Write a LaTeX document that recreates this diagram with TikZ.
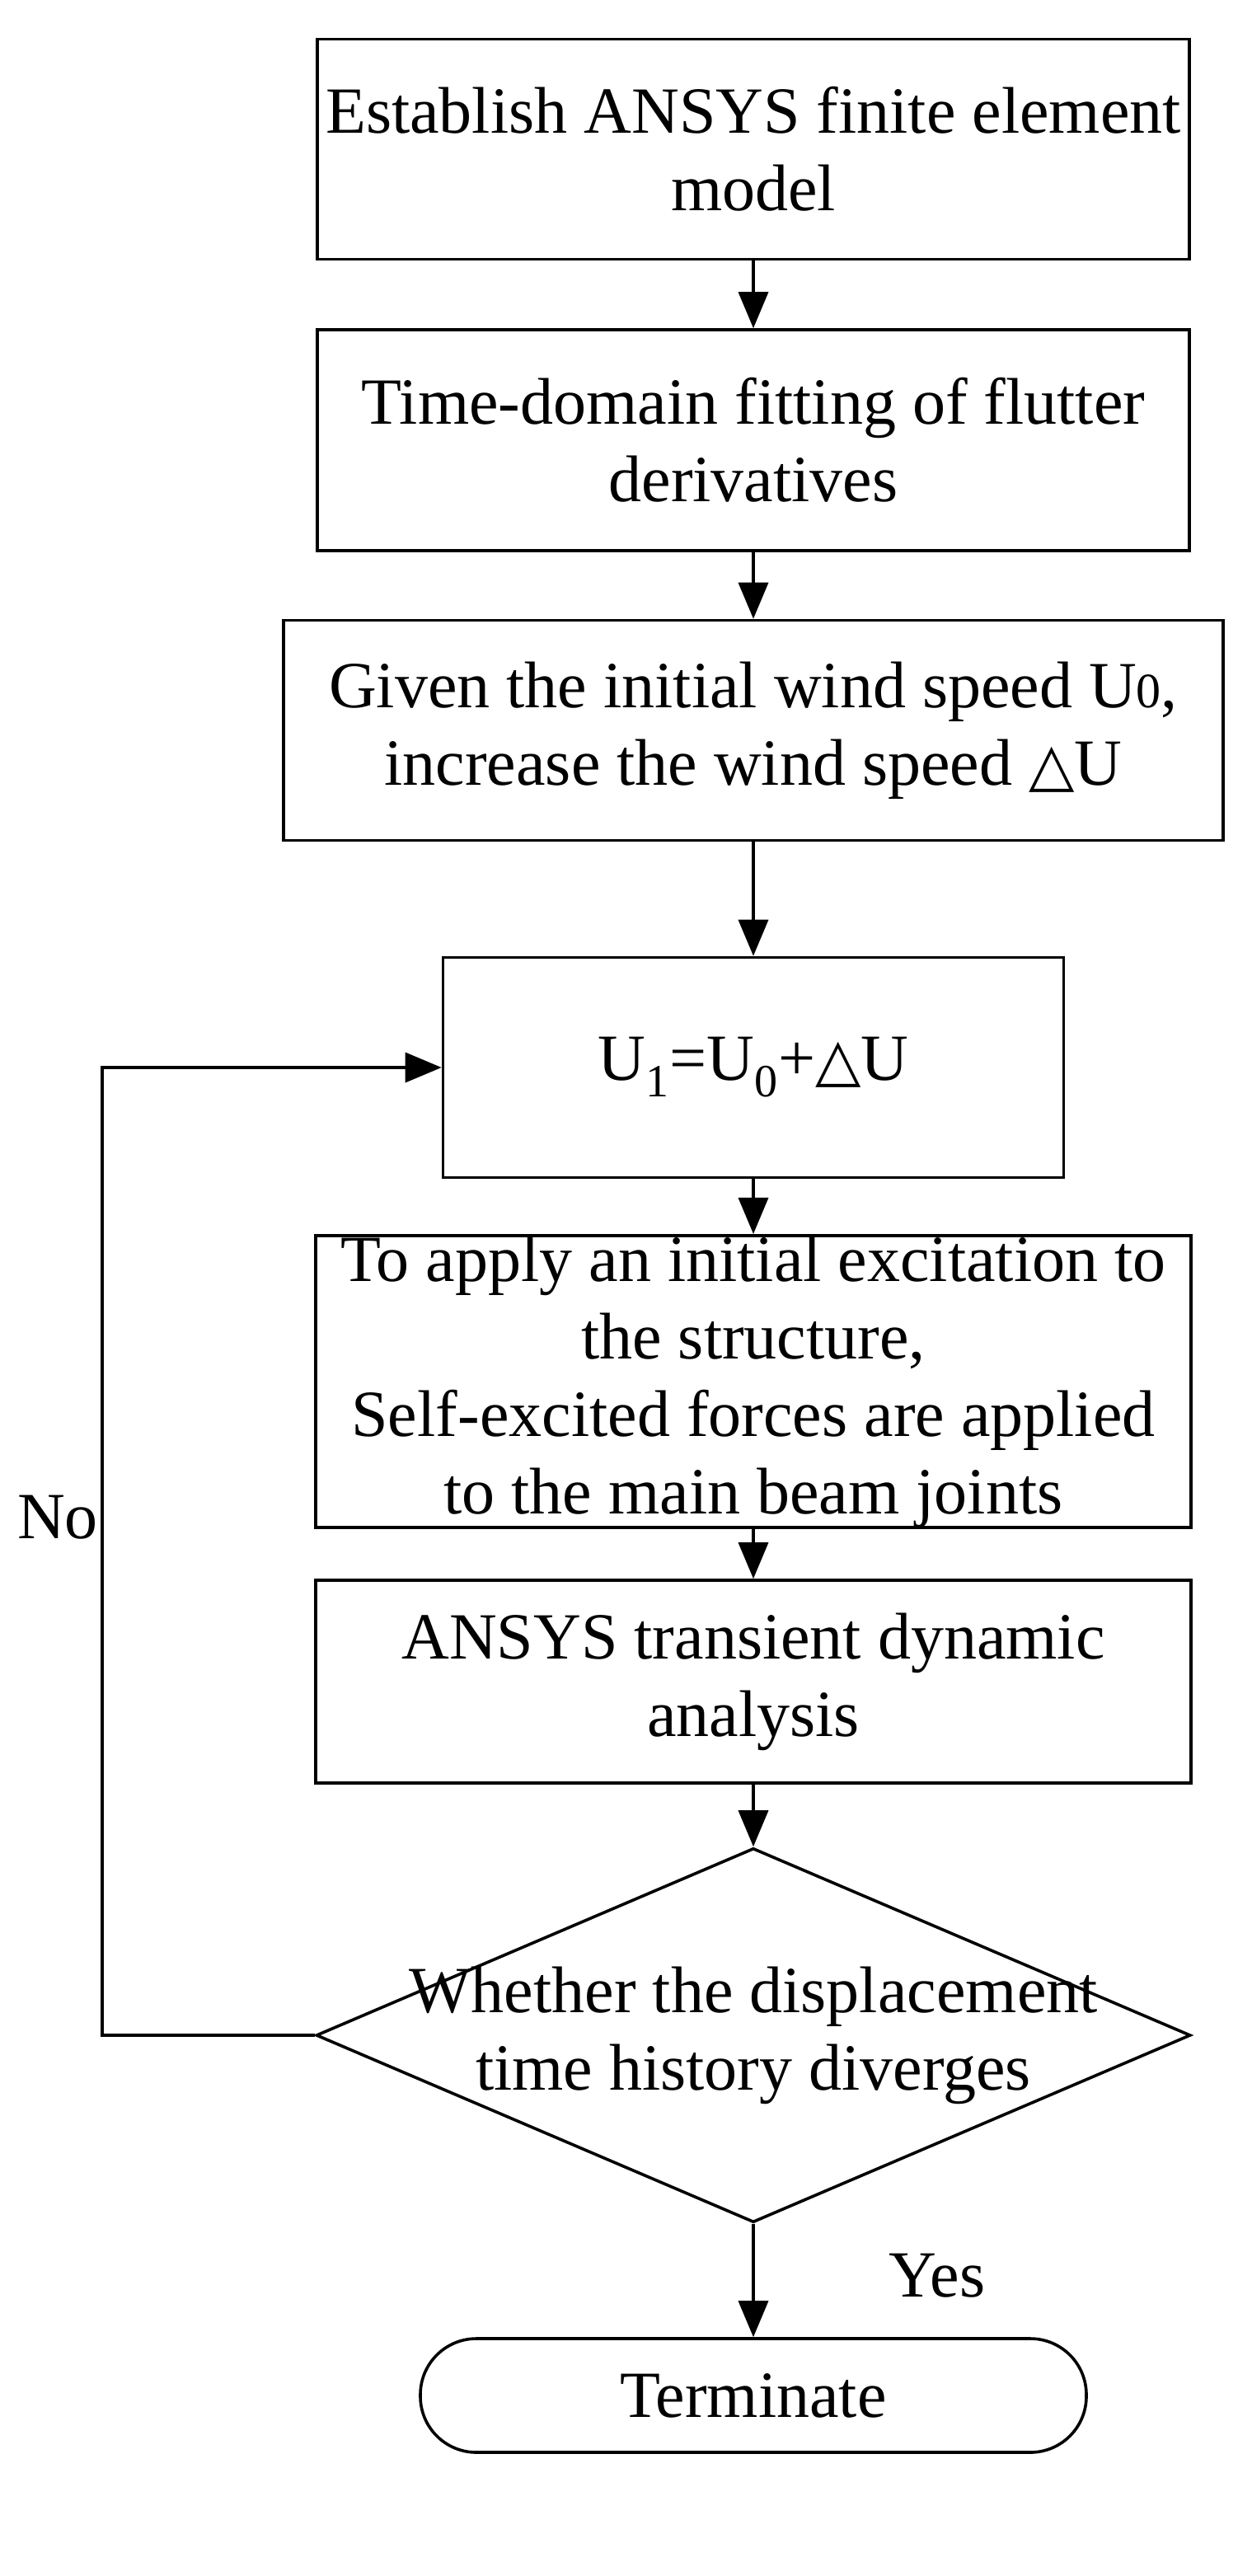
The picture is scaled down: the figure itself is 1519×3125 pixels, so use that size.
\documentclass[tikz,border=0pt]{standalone}
\usepackage{fontspec}
\setmainfont{Liberation Serif}
\newfontfamily\symf{DejaVu Sans}
\usetikzlibrary{shapes.geometric,arrows.meta}
\newcommand{\tri}{{\symf\fontsize{36}{36}\selectfont △}}
\begin{document}
\begin{tikzpicture}[x=0.5pt,y=-0.5pt,
  every node/.style={font=\fontsize{40}{47}\selectfont},
  box/.style={draw,line width=1.8pt,rectangle,align=center,inner sep=0pt,minimum height=133.5pt},
  arr/.style={line width=1.8pt,-{Triangle[length=22pt,width=18pt]}}]
\useasboundingbox (0,0) rectangle (1519,3125);
\node[box,minimum width=529pt] (b1) at (914,181) {Establish ANSYS finite element\\model};
\node[box,minimum width=529pt,minimum height=134pt] (b2) at (914,534) {Time-domain fitting of flutter\\derivatives};
\node[box,minimum width=570pt] (b3) at (914,886) {Given the initial wind speed U{\fontsize{30}{30}\selectfont 0},\\increase the wind speed \tri U};
\node[box,minimum width=376.5pt] (b4) at (914,1295) {U\textsubscript{1}=U\textsubscript{0}+\tri U};
\node[box,minimum width=531pt,minimum height=162.5pt] (b5) at (914,1676) {To apply an initial excitation to\\the structure,\\Self-excited forces are applied\\to the main beam joints};
\node[box,minimum width=531pt,minimum height=123pt] (b6) at (914,2040) {ANSYS transient dynamic\\analysis};
\node[draw,line width=1.8pt,diamond,minimum width=530.5pt,minimum height=227pt,inner sep=0pt] (d) at (914,2469) {};
\node[align=center] (dt) at (914,2469) {Whether the displacement\\time history diverges};
\node[draw,line width=1.8pt,rectangle,rounded corners=34pt,minimum width=404pt,minimum height=69pt,inner sep=0pt] (t) at (914,2906) {Terminate};
\coordinate (c1) at (124,2469);
\coordinate (c2) at (124,1295);
\node (no) at (70,1841) {No};
\node (yes) at (1137,2761) {Yes};
\draw[arr] (b1) -- (b2);
\draw[arr] (b2) -- (b3);
\draw[arr] (b3) -- (b4);
\draw[arr] (b4) -- (b5);
\draw[arr] (b5) -- (b6);
\draw[arr] (b6) -- (d.north);
\draw[arr] (d.south) -- (t);
\draw[arr] (d.west) -- (c1) -- (c2) -- (b4.west);
\end{tikzpicture}
\end{document}
